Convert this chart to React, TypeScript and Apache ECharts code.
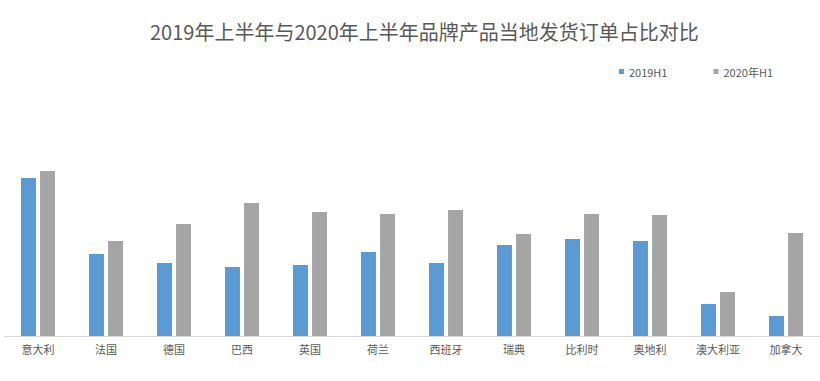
import React, { useEffect, useRef } from "react";
import * as echarts from "echarts";

const categories = ["意大利", "法国", "德国", "巴西", "英国", "荷兰", "西班牙", "瑞典", "比利时", "奥地利", "澳大利亚", "加拿大"];
const series2019 = [15.8, 8.2, 7.3, 6.9, 7.1, 8.4, 7.3, 9.1, 9.7, 9.5, 3.2, 2.0];
const series2020 = [16.5, 9.5, 11.2, 13.3, 12.4, 12.2, 12.6, 10.2, 12.2, 12.1, 4.4, 10.3];
const title = "2019年上半年与2020年上半年品牌产品当地发货订单占比对比";
const legendNames = ["2019H1", "2020年H1"];

export default function App() {
  const ref = useRef<HTMLDivElement>(null);
  useEffect(() => {
    if (!ref.current) return;
    const chart = echarts.init(ref.current, undefined, { renderer: "svg" });
    const font = "'Noto Sans CJK SC', 'Noto Sans', sans-serif";
    chart.setOption({
      animation: false,
      backgroundColor: "#ffffff",
      title: {
        text: title,
        left: 145,
        top: 16,
        textStyle: { fontSize: 20, fontWeight: "normal", color: "#595959", fontFamily: font },
      },
      legend: {
        data: legendNames,
        right: 42,
        top: 61,
        icon: "rect",
        itemWidth: 5,
        itemHeight: 5,
        itemGap: 46,
        textStyle: { fontSize: 11, color: "#595959", fontFamily: font },
      },
      grid: { left: 4, right: 0, top: 136, bottom: 45 },
      xAxis: {
        type: "category",
        data: categories,
        axisLine: { lineStyle: { color: "#d9d9d9", width: 1 } },
        axisTick: { show: false },
        axisLabel: { fontSize: 11, color: "#595959", margin: 7, fontFamily: font, interval: 0 },
      },
      yAxis: { type: "value", min: 0, max: 20, show: false, splitLine: { show: false } },
      series: [
        { name: legendNames[0], type: "bar", data: series2019, barWidth: 15, barGap: "27%", itemStyle: { color: "#5B9BD5" } },
        { name: legendNames[1], type: "bar", data: series2020, barWidth: 15, barGap: "27%", itemStyle: { color: "#A5A5A5" } },
      ],
    });
    return () => chart.dispose();
  }, []);
  return <div ref={ref} style={{ width: 820, height: 381, position: "fixed", left: 0, top: 0 }} />;
}
